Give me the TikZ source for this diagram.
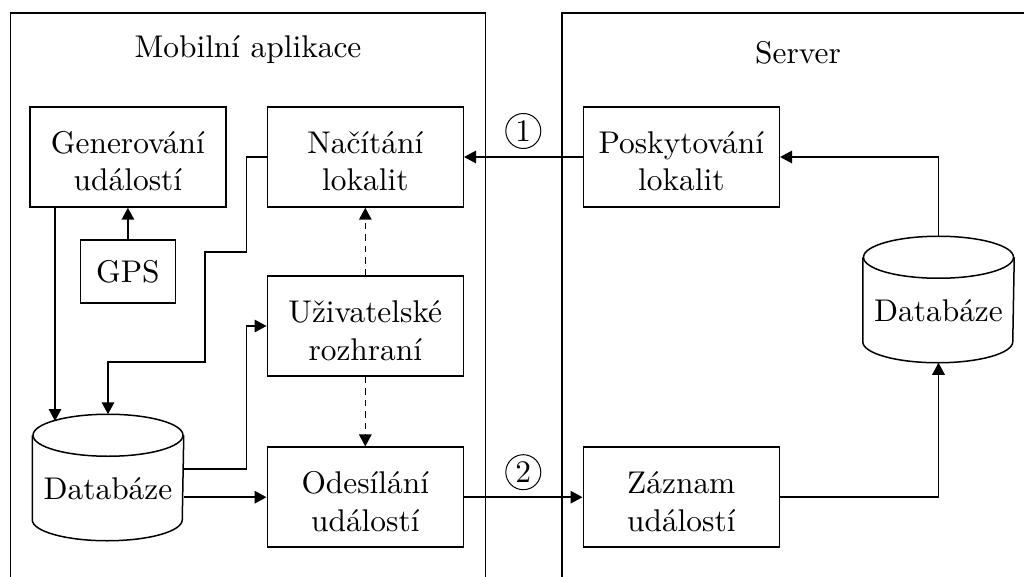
\documentclass[tikz,border=0pt]{standalone}
\usepackage{fontspec}
\setmainfont{lmroman10-regular.otf}
\usetikzlibrary{arrows.meta}

% outline of a database drum around an invisible body node
\newcommand\drumoutline[1]{%
  \draw ([yshift=-21pt]#1.north west) -- ([yshift=21pt]#1.south west)
        arc[start angle=180, end angle=360, x radius=75pt, y radius=21pt]
        -- ([yshift=-21pt]#1.north east);
  \draw ([yshift=-21pt]#1.north) ellipse [x radius=75pt, y radius=21pt];
}
% two centred lines, baseline on the first one
\newcommand\twolines[2]{\begin{tabular}[t]{@{}c@{}}#1\\#2\end{tabular}}

\begin{document}
\begin{tikzpicture}[x=1pt, y=-1pt,
  line width=1.5pt,
  font=\fontsize{31.4}{37.7}\selectfont,
  box/.style={draw, minimum width=196pt, minimum height=100pt, inner sep=0pt},
  twobox/.style={box, text height=30pt, text depth=37.4pt},
  dbbody/.style={minimum width=150pt, minimum height=125pt, inner sep=0pt,
                 text height=43pt, text depth=0pt},
  arr/.style={-{Triangle[length=12pt, width=12.5pt]}},
  darr/.style={arr, dash pattern=on 6.5pt off 5pt},
  num/.style={circle, draw, line width=1pt, inner sep=0pt, minimum size=35pt},
]
\useasboundingbox (0,0) rectangle (1024,577);

% the two subsystems
\draw (10.5,577) -- (10.5,13) -- (485.5,13) -- (485.5,577);
\draw (562,577) -- (562,13) -- (1024,13);
\node[anchor=base] (tmob) at (248,58) {Mobilní aplikace};
\node[anchor=base] (tsrv) at (798,64) {Server};

% mobile application
\node[twobox] (gen) at (127.9,157) {\twolines{Generování}{událostí}};
\node[twobox] (nac) at (365.3,157) {\twolines{Načítání}{lokalit}};
\node[box, minimum width=95pt, minimum height=63pt] (gps) at (127.9,271.5) {GPS};
\node[twobox] (uzi) at (365.3,326) {\twolines{Uživatelské}{rozhraní}};
\node[twobox] (ode) at (365.3,497.2) {\twolines{Odesílání}{událostí}};
\node[dbbody] (db1) at (108,477.5) {Databáze};
\drumoutline{db1}

% server
\node[twobox] (posk) at (681.3,157) {\twolines{Poskytování}{lokalit}};
\node[twobox] (zaz) at (681.3,497.2) {\twolines{Záznam}{událostí}};
\node[dbbody] (db2) at (938.5,299.5) {Databáze};
\drumoutline{db2}

% communication between the two sides
\draw[arr] (posk.west) -- node[num, above=8pt] (n1) {1} (nac.east);
\draw[arr] (ode.east) -- node[num, above=7pt] (n2) {2} (zaz.west);

% server flows
\draw[arr] (db2.north) |- (posk.east);
\draw[arr] (zaz.east) -| (db2.south);

% application flows
\draw[arr] (gps.north) -- (gen.south);
\coordinate (dbin) at (55,421);
\draw[arr] (gen.south -| dbin) -- (dbin);
\draw[arr] (nac.west) -| (246.5,252) -| (205,362) -| (db1.north);
\draw[arr] ([yshift=8.5pt]db1.east) -| (246.5,326) -- (uzi.west);
\draw[arr] (db1.east |- ode.west) -- (ode.west);
\draw[darr] (uzi.north) -- (nac.south);
\draw[darr] (uzi.south) -- (ode.north);
\end{tikzpicture}
\end{document}
